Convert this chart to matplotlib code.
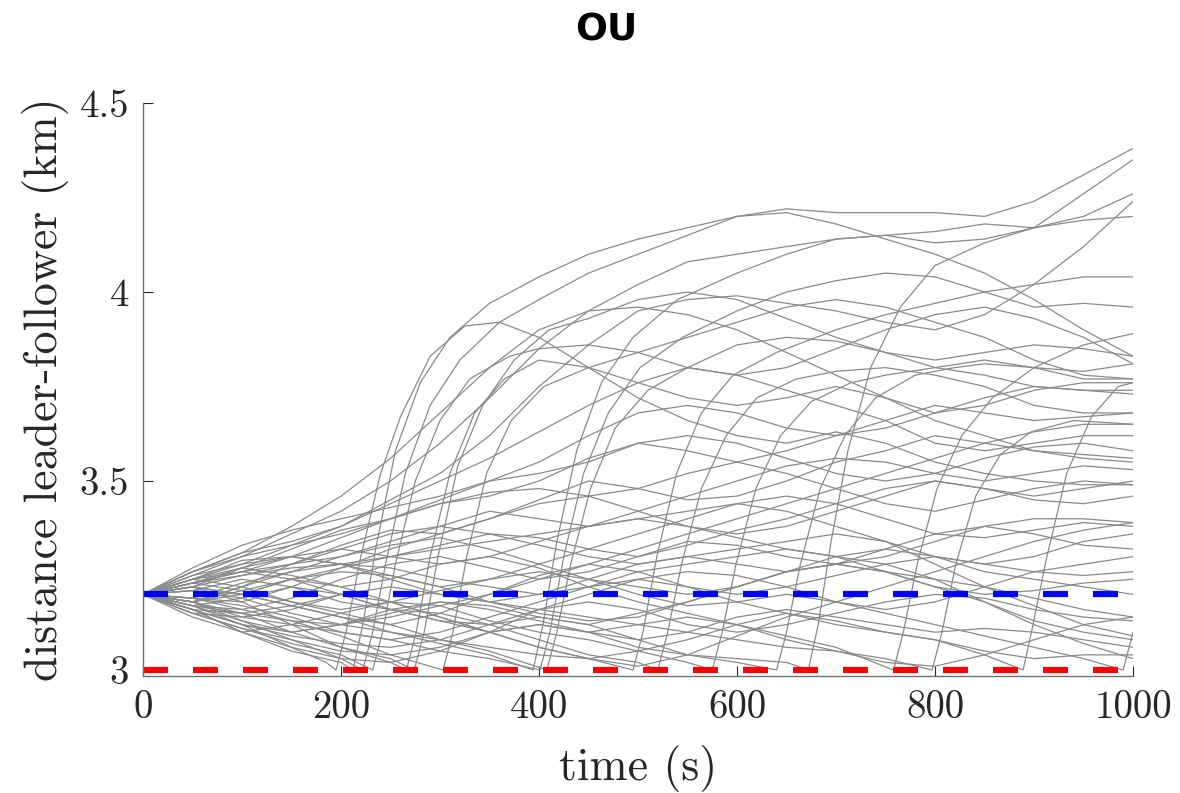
import matplotlib.pyplot as plt

plt.rcParams['font.family'] = ['cmr10', 'DejaVu Serif']
plt.rcParams['axes.formatter.use_mathtext'] = True
plt.rcParams['lines.scale_dashes'] = False

# sampling grid (s)
time_s = [0, 50, 100, 150, 200, 250, 300, 350, 400, 450, 500,
          550, 600, 650, 700, 750, 800, 850, 900, 950, 1000]

safe_gap = 3.0    # km, red dashed
target_gap = 3.2  # km, blue dashed

# runs that hit the 3 km limit and jump back up (own time stamps around the jump)
run_j01_t = time_s[:4] + [185, 195, 205, 220, 240, 260, 290, 325, 360] + time_s[8:]
run_j01 = [3.20, 3.17, 3.12, 3.06, 3.02, 3.00, 3.10, 3.30, 3.52, 3.67, 3.83, 3.91, 3.92,
           3.88, 3.80, 3.72, 3.66, 3.62, 3.60, 3.63, 3.60, 3.55, 3.52, 3.50, 3.49, 3.49]
run_j02_t = time_s[:5] + [212, 222, 235, 255, 280, 310, 350] + time_s[8:]
run_j02 = [3.20, 3.16, 3.10, 3.05, 3.02, 3.00, 3.12, 3.32, 3.58, 3.76, 3.88, 3.97,
           4.04, 4.10, 4.14, 4.17, 4.20, 4.22, 4.21, 4.21, 4.21, 4.20, 4.24, 4.31, 4.38]
run_j03_t = time_s[:5] + [222, 232, 245, 265, 290, 320, 360] + time_s[8:]
run_j03 = [3.20, 3.18, 3.13, 3.08, 3.03, 3.00, 3.10, 3.28, 3.52, 3.70, 3.82, 3.92,
           3.98, 4.05, 4.10, 4.15, 4.20, 4.21, 4.18, 4.14, 4.10, 4.05, 3.98, 3.90, 3.83]
run_j04_t = time_s[:5] + [232, 242, 255, 275, 300, 330, 370] + time_s[8:]
run_j04 = [3.20, 3.15, 3.11, 3.07, 3.04, 3.00, 3.10, 3.28, 3.50, 3.66, 3.77, 3.83,
           3.85, 3.86, 3.84, 3.80, 3.78, 3.80, 3.85, 3.90, 3.94, 3.96, 3.93, 3.88, 3.81]
run_j05_t = time_s[:6] + [266, 276, 290, 310, 335, 365] + time_s[8:]
run_j05 = [3.20, 3.22, 3.18, 3.12, 3.06, 3.02, 3.00, 3.10, 3.30, 3.52, 3.68, 3.77,
           3.82, 3.80, 3.76, 3.72, 3.70, 3.72, 3.75, 3.72, 3.68, 3.70, 3.74, 3.76, 3.76]
run_j06_t = time_s[:6] + [274, 284, 298, 318, 343, 375, 410] + time_s[9:]
run_j06 = [3.20, 3.17, 3.15, 3.10, 3.06, 3.03, 3.00, 3.10, 3.30, 3.54, 3.70, 3.82, 3.90,
           3.93, 3.98, 4.00, 3.98, 3.93, 3.88, 3.84, 3.80, 3.78, 3.75, 3.74, 3.73]
run_j07_t = time_s[:6] + [303, 313, 327, 347, 372, 405] + time_s[9:]
run_j07 = [3.20, 3.19, 3.16, 3.13, 3.09, 3.04, 3.00, 3.10, 3.30, 3.52, 3.66, 3.75,
           3.80, 3.84, 3.88, 3.92, 3.96, 3.98, 3.96, 3.92, 3.88, 3.82, 3.78, 3.77]
run_j08_t = time_s[:8] + [394, 404, 418, 438, 463, 495, 540] + time_s[12:]
run_j08 = [3.20, 3.22, 3.20, 3.17, 3.14, 3.10, 3.07, 3.04, 3.00, 3.12, 3.34, 3.58,
           3.76, 3.88, 3.98, 4.05, 4.10, 4.14, 4.15, 4.16, 4.18, 4.17, 4.26, 4.35]
run_j09_t = time_s[:8] + [401, 411, 425, 445, 470, 502, 545] + time_s[12:]
run_j09 = [3.20, 3.18, 3.14, 3.12, 3.10, 3.08, 3.05, 3.03, 3.00, 3.10, 3.30, 3.52,
           3.68, 3.80, 3.88, 3.95, 4.00, 4.03, 4.05, 4.04, 4.00, 3.96, 3.97, 3.96]
run_j10_t = time_s[:8] + [408, 418, 432, 452, 477, 510, 550] + time_s[12:]
run_j10 = [3.20, 3.24, 3.22, 3.18, 3.15, 3.12, 3.08, 3.05, 3.00, 3.10, 3.28, 3.48,
           3.64, 3.74, 3.80, 3.86, 3.88, 3.87, 3.84, 3.82, 3.84, 3.86, 3.85, 3.83]
run_j11_t = time_s[:10] + [495, 505, 519, 539, 564, 596, 640] + time_s[14:]
run_j11 = [3.20, 3.16, 3.15, 3.17, 3.20, 3.18, 3.14, 3.10, 3.06, 3.03, 3.00, 3.10,
           3.30, 3.52, 3.68, 3.78, 3.84, 3.90, 3.94, 3.97, 4.00, 4.02, 4.04, 4.04]
run_j12_t = time_s[:11] + [520, 530, 544, 564, 589, 620, 660] + time_s[14:]
run_j12 = [3.20, 3.21, 3.24, 3.22, 3.18, 3.16, 3.15, 3.12, 3.08, 3.04, 3.02, 3.00, 3.10,
           3.28, 3.48, 3.62, 3.72, 3.77, 3.79, 3.80, 3.78, 3.75, 3.70, 3.68, 3.68]
run_j13_t = time_s[:12] + [575, 585, 599, 619, 644, 675, 715] + time_s[15:]
run_j13 = [3.20, 3.14, 3.10, 3.12, 3.15, 3.18, 3.17, 3.13, 3.10, 3.08, 3.05, 3.02, 3.00,
           3.10, 3.28, 3.48, 3.62, 3.71, 3.76, 3.78, 3.80, 3.82, 3.80, 3.77, 3.77]
run_j14_t = time_s[:13] + [640, 650, 664, 684, 709, 740, 780, 820] + time_s[17:]
run_j14 = [3.20, 3.17, 3.19, 3.22, 3.20, 3.16, 3.13, 3.12, 3.14, 3.12, 3.08, 3.04, 3.02,
           3.00, 3.10, 3.28, 3.48, 3.62, 3.72, 3.78, 3.80, 3.81, 3.80, 3.79, 3.81]
run_j15_t = time_s[:14] + [672, 682, 695, 712, 735, 765] + time_s[16:]
run_j15 = [3.20, 3.23, 3.26, 3.24, 3.20, 3.16, 3.13, 3.10, 3.12, 3.10, 3.06, 3.04, 3.03,
           3.02, 3.00, 3.12, 3.34, 3.58, 3.80, 3.96, 4.07, 4.13, 4.17, 4.20, 4.26]
run_j16_t = time_s[:15] + [758, 768, 782, 802, 827, 858] + time_s[18:]
run_j16 = [3.20, 3.16, 3.12, 3.10, 3.12, 3.15, 3.18, 3.16, 3.13, 3.10, 3.12, 3.14,
           3.12, 3.09, 3.06, 3.00, 3.10, 3.28, 3.48, 3.62, 3.72, 3.80, 3.86, 3.89]
run_j17_t = time_s[:16] + [797, 807, 821, 841, 866, 897, 940] + time_s[20:]
run_j17 = [3.20, 3.25, 3.28, 3.30, 3.28, 3.24, 3.20, 3.18, 3.16, 3.14, 3.12, 3.10,
           3.08, 3.06, 3.05, 3.03, 3.00, 3.10, 3.28, 3.46, 3.57, 3.63, 3.66, 3.65]
run_j18_t = time_s[:18] + [889, 899, 913, 933, 958, 985] + time_s[20:]
run_j18 = [3.20, 3.18, 3.22, 3.26, 3.28, 3.27, 3.24, 3.22, 3.20, 3.22, 3.24, 3.22, 3.18,
           3.15, 3.12, 3.10, 3.08, 3.04, 3.00, 3.12, 3.30, 3.52, 3.67, 3.75, 3.76]
run_j19_t = time_s[:20] + [990] + time_s[20:]
run_j19 = [3.20, 3.23, 3.21, 3.18, 3.16, 3.18, 3.21, 3.24, 3.26, 3.24, 3.20, 3.17,
           3.18, 3.20, 3.18, 3.15, 3.12, 3.09, 3.06, 3.03, 3.00, 3.10]

# runs that just drift (on the common grid)
run_d01 = [3.20, 3.25, 3.30, 3.36, 3.42, 3.50, 3.60, 3.72, 3.85, 3.95, 4.02, 4.08, 4.10, 4.12, 4.14, 4.15, 4.13, 4.14, 4.17, 4.19, 4.20]
run_d02 = [3.20, 3.24, 3.28, 3.33, 3.38, 3.45, 3.52, 3.62, 3.75, 3.86, 3.95, 3.98, 3.99, 3.97, 3.95, 3.92, 3.90, 3.94, 4.02, 4.12, 4.24]
run_d03 = [3.20, 3.26, 3.31, 3.34, 3.38, 3.44, 3.50, 3.56, 3.63, 3.70, 3.76, 3.80, 3.78, 3.74, 3.70, 3.66, 3.60, 3.58, 3.60, 3.62, 3.62]
run_d04 = [3.20, 3.22, 3.27, 3.32, 3.37, 3.40, 3.45, 3.50, 3.52, 3.55, 3.60, 3.62, 3.60, 3.56, 3.52, 3.50, 3.52, 3.56, 3.59, 3.60, 3.58]
run_d05 = [3.20, 3.23, 3.25, 3.28, 3.33, 3.37, 3.36, 3.40, 3.45, 3.50, 3.48, 3.45, 3.46, 3.50, 3.55, 3.58, 3.62, 3.60, 3.58, 3.57, 3.56]
run_d06 = [3.20, 3.18, 3.22, 3.28, 3.30, 3.34, 3.38, 3.42, 3.40, 3.38, 3.42, 3.46, 3.50, 3.54, 3.56, 3.55, 3.52, 3.50, 3.52, 3.54, 3.53]
run_d07 = [3.20, 3.24, 3.29, 3.30, 3.32, 3.30, 3.28, 3.30, 3.34, 3.38, 3.40, 3.38, 3.36, 3.38, 3.42, 3.46, 3.50, 3.48, 3.46, 3.48, 3.50]
run_d08 = [3.20, 3.21, 3.20, 3.24, 3.27, 3.30, 3.33, 3.36, 3.35, 3.32, 3.30, 3.33, 3.37, 3.40, 3.44, 3.48, 3.50, 3.48, 3.45, 3.44, 3.46]
run_d09 = [3.20, 3.17, 3.16, 3.19, 3.24, 3.28, 3.30, 3.27, 3.24, 3.26, 3.30, 3.34, 3.33, 3.30, 3.28, 3.30, 3.34, 3.38, 3.40, 3.40, 3.39]
run_d10 = [3.20, 3.23, 3.27, 3.30, 3.28, 3.25, 3.22, 3.24, 3.28, 3.32, 3.36, 3.40, 3.44, 3.46, 3.44, 3.40, 3.36, 3.35, 3.37, 3.39, 3.38]
run_d11 = [3.20, 3.19, 3.23, 3.26, 3.30, 3.33, 3.35, 3.32, 3.28, 3.24, 3.22, 3.20, 3.22, 3.26, 3.30, 3.32, 3.30, 3.28, 3.30, 3.34, 3.36]
run_d12 = [3.20, 3.15, 3.14, 3.16, 3.20, 3.22, 3.20, 3.18, 3.20, 3.24, 3.28, 3.30, 3.28, 3.26, 3.28, 3.32, 3.36, 3.38, 3.36, 3.33, 3.32]
run_d13 = [3.20, 3.22, 3.20, 3.17, 3.14, 3.12, 3.15, 3.20, 3.25, 3.28, 3.26, 3.22, 3.20, 3.22, 3.25, 3.28, 3.30, 3.28, 3.26, 3.25, 3.26]
run_d14 = [3.20, 3.17, 3.13, 3.10, 3.12, 3.16, 3.18, 3.17, 3.14, 3.12, 3.15, 3.18, 3.22, 3.26, 3.28, 3.26, 3.22, 3.20, 3.21, 3.23, 3.24]
run_d15 = [3.20, 3.24, 3.26, 3.28, 3.32, 3.36, 3.38, 3.36, 3.33, 3.30, 3.28, 3.30, 3.32, 3.34, 3.36, 3.34, 3.30, 3.26, 3.24, 3.22, 3.20]
run_d16 = [3.20, 3.18, 3.20, 3.24, 3.26, 3.25, 3.22, 3.18, 3.15, 3.13, 3.14, 3.18, 3.22, 3.26, 3.28, 3.26, 3.24, 3.22, 3.19, 3.16, 3.14]
run_d17 = [3.20, 3.16, 3.12, 3.09, 3.07, 3.06, 3.08, 3.12, 3.16, 3.18, 3.16, 3.12, 3.10, 3.12, 3.15, 3.18, 3.20, 3.19, 3.16, 3.14, 3.13]
run_d18 = [3.20, 3.22, 3.25, 3.27, 3.28, 3.30, 3.32, 3.34, 3.36, 3.38, 3.40, 3.42, 3.44, 3.42, 3.38, 3.34, 3.28, 3.22, 3.17, 3.12, 3.09]
run_d19 = [3.20, 3.19, 3.17, 3.14, 3.10, 3.08, 3.10, 3.14, 3.18, 3.22, 3.26, 3.28, 3.30, 3.32, 3.30, 3.26, 3.22, 3.18, 3.13, 3.10, 3.08]
run_d20 = [3.20, 3.15, 3.11, 3.08, 3.05, 3.04, 3.06, 3.10, 3.12, 3.10, 3.08, 3.10, 3.14, 3.16, 3.14, 3.12, 3.10, 3.11, 3.10, 3.08, 3.06]
run_d21 = [3.20, 3.21, 3.19, 3.15, 3.12, 3.10, 3.08, 3.06, 3.04, 3.03, 3.05, 3.08, 3.12, 3.15, 3.13, 3.10, 3.08, 3.05, 3.03, 3.04, 3.04]
run_d22 = [3.20, 3.26, 3.30, 3.33, 3.36, 3.40, 3.44, 3.47, 3.48, 3.46, 3.42, 3.38, 3.35, 3.32, 3.30, 3.28, 3.24, 3.18, 3.12, 3.07, 3.03]
run_d23 = [3.20, 3.27, 3.33, 3.37, 3.40, 3.43, 3.46, 3.50, 3.55, 3.62, 3.68, 3.70, 3.68, 3.64, 3.62, 3.64, 3.68, 3.72, 3.75, 3.74, 3.74]
run_d24 = [3.20, 3.18, 3.15, 3.13, 3.12, 3.14, 3.17, 3.20, 3.24, 3.28, 3.32, 3.36, 3.40, 3.44, 3.48, 3.52, 3.56, 3.60, 3.63, 3.65, 3.65]
run_d25 = [3.20, 3.26, 3.31, 3.38, 3.46, 3.56, 3.68, 3.80, 3.90, 3.95, 3.96, 3.94, 3.90, 3.84, 3.78, 3.72, 3.66, 3.62, 3.58, 3.56, 3.55]
run_d26 = [3.20, 3.16, 3.10, 3.06, 3.03, 3.02, 3.05, 3.10, 3.16, 3.20, 3.24, 3.26, 3.25, 3.22, 3.18, 3.16, 3.18, 3.22, 3.26, 3.28, 3.30]
run_d27 = [3.20, 3.18, 3.21, 3.24, 3.22, 3.18, 3.14, 3.10, 3.06, 3.03, 3.01, 3.04, 3.09, 3.14, 3.18, 3.22, 3.26, 3.30, 3.34, 3.37, 3.39]
run_d28 = [3.20, 3.24, 3.27, 3.25, 3.22, 3.24, 3.28, 3.30, 3.27, 3.22, 3.18, 3.15, 3.12, 3.08, 3.05, 3.02, 3.01, 3.04, 3.08, 3.12, 3.14]
run_d29 = [3.20, 3.23, 3.26, 3.30, 3.35, 3.40, 3.44, 3.46, 3.50, 3.56, 3.60, 3.58, 3.55, 3.58, 3.62, 3.66, 3.70, 3.68, 3.66, 3.67, 3.68]
run_d30 = [3.20, 3.19, 3.18, 3.22, 3.27, 3.32, 3.36, 3.40, 3.44, 3.46, 3.48, 3.52, 3.55, 3.52, 3.48, 3.44, 3.42, 3.45, 3.48, 3.50, 3.49]

jump_runs = [(run_j01_t, run_j01), (run_j02_t, run_j02), (run_j03_t, run_j03),
             (run_j04_t, run_j04), (run_j05_t, run_j05), (run_j06_t, run_j06),
             (run_j07_t, run_j07), (run_j08_t, run_j08), (run_j09_t, run_j09),
             (run_j10_t, run_j10), (run_j11_t, run_j11), (run_j12_t, run_j12),
             (run_j13_t, run_j13), (run_j14_t, run_j14), (run_j15_t, run_j15),
             (run_j16_t, run_j16), (run_j17_t, run_j17), (run_j18_t, run_j18),
             (run_j19_t, run_j19)]
drift_runs = [run_d01, run_d02, run_d03, run_d04, run_d05, run_d06, run_d07,
              run_d08, run_d09, run_d10, run_d11, run_d12, run_d13, run_d14,
              run_d15, run_d16, run_d17, run_d18, run_d19, run_d20, run_d21,
              run_d22, run_d23, run_d24, run_d25, run_d26, run_d27, run_d28,
              run_d29, run_d30]

fig = plt.figure(figsize=(11.8, 7.93), dpi=100)
ax = fig.add_axes([0.1212, 0.1475, 0.8390, 0.7226])

line_kw = dict(color='#8a8a8a', lw=0.9, solid_joinstyle='round')
for t, r in jump_runs:
    ax.plot(t, r, **line_kw)
for r in drift_runs:
    ax.plot(time_s, r, **line_kw)

ax.axhline(safe_gap, color='#ff0000', lw=4.5, dashes=(18, 18), dash_capstyle='butt')
ax.axhline(target_gap, color='#0000ff', lw=4.5, dashes=(18, 18), dash_capstyle='butt')

ax.set_xlim(0, 1000)
ax.set_ylim(2.984, 4.5)
ax.set_xticks([0, 200, 400, 600, 800, 1000])
ax.set_xticklabels(['0', '200', '400', '600', '800', '1000'])
ax.set_yticks([3, 3.5, 4, 4.5])
ax.set_yticklabels(['3', '3.5', '4', '4.5'])
ax.tick_params(direction='in', length=7, width=0.8, labelsize=28, pad=10,
               colors='#262626')

for side in ['top', 'right']:
    ax.spines[side].set_visible(False)
for side in ['left', 'bottom']:
    ax.spines[side].set_color('#707070')
    ax.spines[side].set_linewidth(1.0)

ax.set_xlabel('time (s)', fontsize=33, color='#262626')
ax.set_ylabel('distance leader-follower (km)', fontsize=33, color='#262626')
ax.xaxis.set_label_coords(0.5, -0.161)
ax.xaxis.label.set_va('center')
ax.yaxis.set_label_coords(-0.099, 0.5)
ax.yaxis.label.set_va('center')

fig.text(0.5136, 0.962, 'OU', fontsize=27, fontweight='bold',
         family='DejaVu Sans', ha='center', va='center')

fig.savefig('out.png', dpi=100)
